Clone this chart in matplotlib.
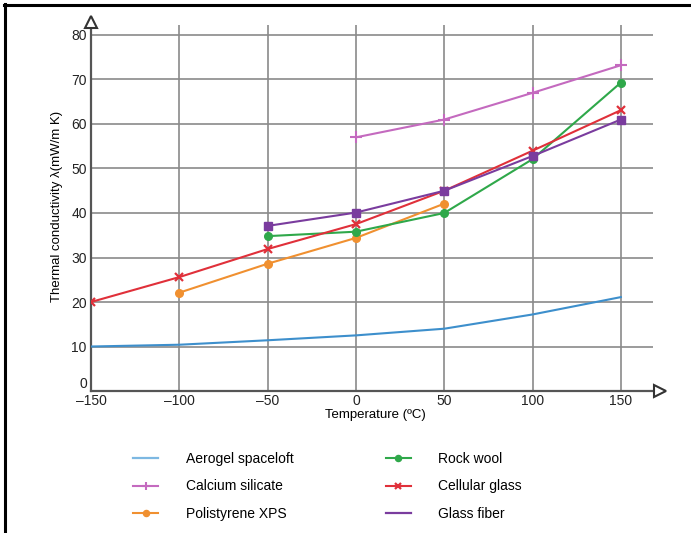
import numpy as np
import matplotlib.pyplot as plt
from matplotlib.lines import Line2D

plt.rcParams.update({
    'font.family': ['Liberation Sans', 'DejaVu Sans'],
    'font.size': 10,
    'axes.unicode_minus': False,
})

# --- data ---
temp_aerogel = [-150, -100, -50, 0, 50, 100, 150]
k_aerogel = [10.0, 10.4, 11.4, 12.5, 14.0, 17.2, 21.1]

temp_calcium = [0, 50, 100, 150]
k_calcium = [57.0, 61.0, 67.0, 73.2]

temp_xps = [-100, -50, 0, 50]
k_xps = [22.1, 28.6, 34.4, 42.1]

temp_rockwool = [-50, 0, 50, 100, 150]
k_rockwool = [34.8, 35.8, 40.0, 52.1, 69.3]

temp_cellular = [-150, -100, -50, 0, 50, 100, 150]
k_cellular = [20.0, 25.6, 31.9, 37.5, 45.0, 54.0, 63.1]

temp_glassfiber = [-50, 0, 50, 100, 150]
k_glassfiber = [37.1, 40.1, 45.0, 52.8, 61.0]

x_ticks = [-150, -100, -50, 0, 50, 100, 150]
x_tick_labels = ['\u2013150', '\u2013100', '\u201350', '0', '50', '100', '150']
y_ticks = [0, 10, 20, 30, 40, 50, 60, 70, 80]

fig = plt.figure(figsize=(6.91, 5.33), dpi=100)
ax = fig.add_axes([0.1317, 0.2664, 0.823, 0.693])

x_min, x_max = -150, 172
y_min, y_max = 0, 83
ax.set_xlim(x_min, x_max)
ax.set_ylim(y_min, y_max)

# grid drawn by hand so it stops short of the arrows
grid_kw = dict(color='#8a8a8a', linewidth=1.2, zorder=1)
ax.hlines(y_ticks[1:], x_min, 168, **grid_kw)
ax.vlines(x_ticks[1:], y_min, 82.3, **grid_kw)

ax.plot(temp_aerogel, k_aerogel, color='#3d8fcc', lw=1.5, label='Aerogel spaceloft', zorder=3)
ax.plot(temp_calcium, k_calcium, color='#c46abf', lw=1.5, marker='+', ms=8, mew=1.5,
        label='Calcium silicate', zorder=3)
ax.plot(temp_xps, k_xps, color='#f09030', lw=1.5, marker='o', ms=5.5,
        label='Polistyrene XPS', zorder=3)
ax.plot(temp_rockwool, k_rockwool, color='#2fa84a', lw=1.5, marker='o', ms=5.5,
        label='Rock wool', zorder=3)
ax.plot(temp_cellular, k_cellular, color='#e0303a', lw=1.5, marker='x', ms=6, mew=1.6,
        label='Cellular glass', zorder=3)
ax.plot(temp_glassfiber, k_glassfiber, color='#7a3c9e', lw=1.5, marker='s', ms=5.5,
        label='Glass fiber', zorder=3)

# axes with open arrow heads
for side in ['top', 'right']:
    ax.spines[side].set_visible(False)
for side in ['left', 'bottom']:
    ax.spines[side].set_color('#555555')
    ax.spines[side].set_linewidth(1.6)
ax.plot([x_max], [0], marker='>', ms=9, mfc='white', mec='#333333', mew=1.5,
        clip_on=False, zorder=5)
ax.plot([x_min], [y_max], marker='^', ms=9, mfc='white', mec='#333333', mew=1.5,
        clip_on=False, zorder=5)

ax.set_xticks(x_ticks)
ax.set_xticklabels(x_tick_labels)
ax.set_yticks(y_ticks)
ax.tick_params(length=0, labelsize=10, colors='#222222')
ax.tick_params(axis='x', pad=2)
ax.tick_params(axis='y', pad=3)
for lbl in ax.get_yticklabels():
    if lbl.get_text() == '0':
        lbl.set_verticalalignment('bottom')

ax.set_xlabel('Temperature (\u00baC)', fontsize=9.5, labelpad=1)
ax.set_ylabel('Thermal conductivity \u03bb(mW/m K)', fontsize=9.5, labelpad=6)

# legend below the plot, two columns
handles, labels = ax.get_legend_handles_labels()
handles[0] = Line2D([], [], color='#7db8e2', lw=1.6)
handles[5] = Line2D([], [], color='#7a3c9e', lw=1.6)
fig.legend(handles, labels, loc='upper left', bbox_to_anchor=(0.175, 0.175),
           ncol=2, frameon=False, fontsize=10, handlelength=1.8,
           handletextpad=2.0, labelspacing=0.95, columnspacing=6.6,
           markerscale=0.8)

# frame lines on top and left of the image
fig.add_artist(Line2D([0.006, 1.0], [0.991, 0.991], color='black', lw=2.2,
                      transform=fig.transFigure))
fig.add_artist(Line2D([0.007, 0.007], [0.0, 0.992], color='black', lw=2.2,
                      transform=fig.transFigure))

fig.savefig('out.png', dpi=100)
